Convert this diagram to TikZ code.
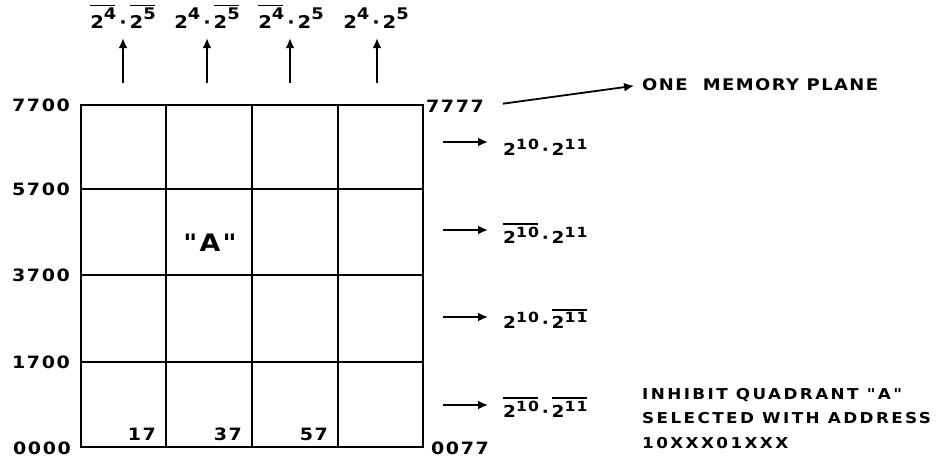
\documentclass[tikz,border=0pt]{standalone}
\usepackage{fontspec}
\setmainfont{DejaVu Sans}[Ligatures=TeXOff, FakeStretch=1.12, LetterSpace=9]
\usepackage{tikz}
\usetikzlibrary{arrows.meta}

% power of two, lettering style: raise, base, exponent
\newcommand{\pw}[3][6pt]{#2\raisebox{#1}{\fontsize{14}{14}\selectfont #3}}
\newcommand{\pt}[2]{#1\raisebox{9pt}{\fontsize{16}{16}\selectfont #2}}
% complemented term, heavy bar
\newcommand{\nt}[1]{\setbox0\hbox{#1}\rlap{\raisebox{\dimexpr\ht0+2pt\relax}{\rule{\dimexpr\wd0-1pt\relax}{1.7pt}}}\box0}
\newcommand{\md}{\,·\,}

\tikzset{
  lbl/.style = {font=\fontsize{17}{19}\selectfont\bfseries, inner sep=2pt},
  term/.style = {font=\fontsize{16.5}{18}\selectfont\bfseries, inner sep=2pt},
  note/.style = {font=\fontsize{15}{24.5}\selectfont\bfseries\addfontfeatures{LetterSpace=16}, inner sep=0pt, align=left},
  cell/.style = {line width=2pt},
  ptr/.style = {-{Latex[length=10pt, width=9pt]}, line width=1.8pt}
}

\begin{document}
\begin{tikzpicture}[x=1pt, y=-1pt]
  \useasboundingbox (0,0) rectangle (950,457);

  % the memory plane
  \draw[cell] (81,105) rectangle (423,447);
  \draw[cell] (166,105) -- (166,447);
  \draw[cell] (252,105) -- (252,447);
  \draw[cell] (338,105) -- (338,447);
  \draw[cell] (81,189) -- (423,189);
  \draw[cell] (81,275) -- (423,275);
  \draw[cell] (81,362) -- (423,362);

  % addresses on the left
  \node[lbl, anchor=east] (a7700) at (72,105) {7700};
  \node[lbl, anchor=east] (a5700) at (72,189) {5700};
  \node[lbl, anchor=east] (a3700) at (72,275) {3700};
  \node[lbl, anchor=east] (a1700) at (72,362) {1700};
  \node[lbl, anchor=base east, inner sep=1pt] (a0000) at (72,454) {0000};
  \node[lbl, anchor=west] (a7777) at (424,106) {7777};
  \node[lbl, anchor=base west, inner sep=1pt] (a0077) at (430,454) {0077};

  \node[lbl, anchor=base east] (c17) at (158,440) {17};
  \node[lbl, anchor=base east] (c37) at (244,440) {37};
  \node[lbl, anchor=base east] (c57) at (330,440) {57};
  \node[lbl, font=\fontsize{24}{26}\selectfont\bfseries] (qa) at (210,243) {"A"};

  % column selection
  \node[term, font=\fontsize{17.5}{19}\selectfont\bfseries, anchor=base] (t1) at (123,29) {\nt{\pt{2}{4}}\md\nt{\pt{2}{5}}};
  \node[term, font=\fontsize{17.5}{19}\selectfont\bfseries, anchor=base] (t2) at (207,29) {\pt{2}{4}\md\nt{\pt{2}{5}}};
  \node[term, font=\fontsize{17.5}{19}\selectfont\bfseries, anchor=base] (t3) at (291,29) {\nt{\pt{2}{4}}\md\pt{2}{5}};
  \node[term, font=\fontsize{17.5}{19}\selectfont\bfseries, anchor=base] (t4) at (376,29) {\pt{2}{4}\md\pt{2}{5}};
  \coordinate (b1) at (123,83);
  \coordinate (b2) at (207,83);
  \coordinate (b3) at (290,83);
  \coordinate (b4) at (377,83);
  \draw[ptr, shorten >=7pt] (b1) -- (b1 |- t1.south);
  \draw[ptr, shorten >=7pt] (b2) -- (b2 |- t2.south);
  \draw[ptr, shorten >=7pt] (b3) -- (b3 |- t3.south);
  \draw[ptr, shorten >=7pt] (b4) -- (b4 |- t4.south);

  % row selection
  \node[term, anchor=west] (r1) at (501,147) {\pw{2}{10}\md\pw{2}{11}};
  \node[term, anchor=west] (r2) at (501,233) {\nt{\pw{2}{10}}\md\pw{2}{11}};
  \node[term, anchor=west] (r3) at (501,319) {\pw{2}{10}\md\nt{\pw{2}{11}}};
  \node[term, anchor=west] (r4) at (501,407) {\nt{\pw{2}{10}}\md\nt{\pw{2}{11}}};
  \coordinate (s1) at (443,142);
  \coordinate (s2) at (443,230);
  \coordinate (s3) at (443,317);
  \coordinate (s4) at (443,405);
  \draw[ptr, shorten >=13pt] (s1) -- (s1 -| r1.west);
  \draw[ptr, shorten >=13pt] (s2) -- (s2 -| r2.west);
  \draw[ptr, shorten >=13pt] (s3) -- (s3 -| r3.west);
  \draw[ptr, shorten >=13pt] (s4) -- (s4 -| r4.west);

  \node[lbl, font=\fontsize{16}{18}\selectfont\bfseries, anchor=west] (plane) at (640,85) {ONE\ \ MEMORY PLANE};
  \draw[ptr, shorten <=17pt, shorten >=6pt] (a7777.east) -- (plane.west);

  \node[note, anchor=north west] (inh) at (642,388) {INHIBIT QUADRANT "A"\\SELECTED WITH ADDRESS\\10XXX01XXX};
\end{tikzpicture}
\end{document}
